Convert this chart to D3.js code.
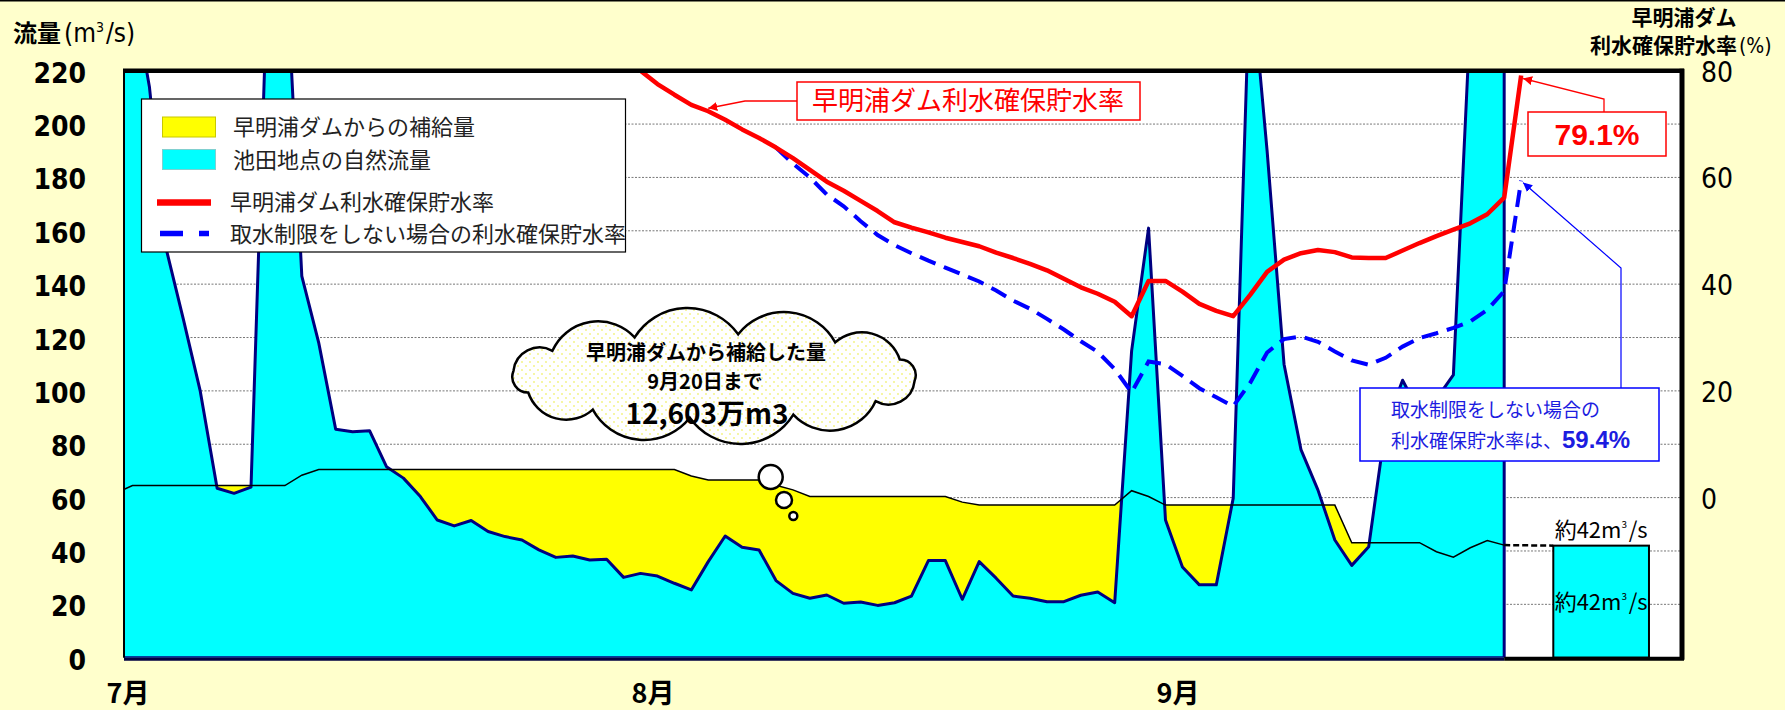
<!DOCTYPE html>
<html>
<head>
<meta charset="utf-8">
<script src="https://cdn.jsdelivr.net/npm/d3@7"></script>
<style>
  body { margin: 0; background: #ffffcc; }
  svg text { font-family: "Noto Sans CJK JP", sans-serif; }
</style>
</head>
<body>
<div id="chart"></div>
<script>
(() => {

  // day index 0 = 7/1, one value per day
  var natStart = -1;
  var natural = [260, 250, 214, 153, 127, 100, 63.5, 61.6, 63.9, 260, 270, 143, 118, 85.6, 84.7, 85.1, 71.6,
    67.3, 60.4, 51.6, 49.4, 51.4, 47.3, 45.4, 44.1, 40.4, 37.6, 38.1, 36.6, 36.9, 30.1, 31.6, 30.6, 27.9,
    25.4, 36.0, 45.6, 41.4, 40.4, 28.9, 24.1, 22.3, 23.5, 20.4, 20.9, 19.6, 20.6, 23.1, 36.4, 36.4, 21.9,
    36.0, 29.8, 23.1, 22.3, 21.0, 21.0, 23.4, 24.6, 20.6, 115, 161, 51.6, 34.0, 27.3, 27.3, 59.8, 260, 190,
    110, 78, 62.9, 44.1, 34.6, 41.6, 87, 104, 92, 97, 106, 240, 300, 300];

  var totStart = -1;
  var total = [61.7, 64.5, 64.5, 64.5, 64.5, 64.5, 64.5, 64.5, 64.5, 64.5, 64.5, 68.4,
    70.5, 70.5, 70.5, 70.5, 70.5, 70.5, 70.5, 70.5, 70.5, 70.5, 70.5, 70.5, 70.5, 70.5, 70.5, 70.5,
    70.5, 70.5, 70.5, 70.5, 70.5, 70.5, 68.1, 66.6, 66.6, 66.6, 66.6, 64.6, 62.9,
    60.4, 60.4, 60.4, 60.4, 60.4, 60.4, 60.4, 60.4, 60.4, 58.3,
    57.2, 57.2, 57.2, 57.2, 57.2, 57.2, 57.2, 57.2, 57.2, 62.6, 60.4,
    57.2, 57.2, 57.2, 57.2, 57.2, 57.2, 57.2, 57.2, 57.2, 57.2, 57.2,
    43.1, 43.1, 43.1, 43.1, 43.1, 39.7, 37.7, 41.2, 43.9, 42.2];

  // storage rate (%)
  var redStart = 29;
  var rate = [82, 80.0, 77.5, 75.5, 73.6, 72.4, 70.8, 69.0, 67.4, 65.6, 63.6, 61.4, 59.2, 57.5, 55.6,
    53.7, 51.6, 50.6, 49.7, 48.7, 47.9, 47.1, 45.9, 44.9, 43.8, 42.6, 41.0, 39.4, 38.2, 36.7, 34.0,
    40.6, 40.6, 38.6, 36.3, 35.0, 34.0, 38.0, 42.3, 44.6, 45.8, 46.4, 46.0, 45.0, 44.9, 44.9, 46.3,
    47.7, 49.0, 50.2, 51.4, 53.1, 56.2, 79.1];

  var blueStart = 38;
  var rateNoLimit = [65.6, 62.6, 60.0, 56.8, 54.6, 51.8, 49.2, 47.3, 45.8, 44.4, 43.1, 41.8, 40.5,
    38.8, 36.9, 35.4, 33.5, 31.5, 29.3, 27.3, 24.1, 19.7, 25.5, 25.0, 22.8, 20.5, 18.8, 17.1, 21.5,
    27.2, 29.7, 30.2, 29.2, 27.4, 25.7, 24.9, 26.2, 28.3, 29.9, 30.8, 31.8, 33.0, 35.2, 38.7, 59.4];

  var monthLabels = ['7月', '8月', '9月'];
  var monthDays = [0, 31, 62];
  var leftTicks = [0, 20, 40, 60, 80, 100, 120, 140, 160, 180, 200, 220];
  var rightTicks = [0, 20, 40, 60, 80];
  var gridTicks = [20, 40, 60, 80, 100, 120, 140, 160, 180, 200];
  var afterFlow = 42;
  var afterBarDays = [84.4, 90.05];

  var W = 1785, H = 710;
  var L = 124, R = 1682, T = 70.7, B = 657.7;
  var narrow = '"Liberation Sans Narrow", "DejaVu Sans Condensed", sans-serif';

  var svg = d3.select('#chart').append('svg')
    .attr('width', W).attr('height', H)
    .style('display', 'block');

  var defs = svg.append('defs');
  defs.append('clipPath').attr('id', 'plotclip')
    .append('rect').attr('x', L).attr('y', T).attr('width', R - L).attr('height', B - T);
  var pat = defs.append('pattern').attr('id', 'dots')
    .attr('width', 8).attr('height', 8).attr('patternUnits', 'userSpaceOnUse');
  pat.append('rect').attr('width', 8).attr('height', 8).attr('fill', '#fff');
  pat.append('circle').attr('cx', 2).attr('cy', 2).attr('r', 0.9).attr('fill', '#f2f27a');
  pat.append('circle').attr('cx', 6).attr('cy', 6).attr('r', 0.9).attr('fill', '#f2f27a');
  ['red', 'blue'].forEach(c => {
    defs.append('marker').attr('id', 'arr-' + c)
      .attr('viewBox', '0 0 10 10').attr('refX', 10).attr('refY', 5)
      .attr('markerWidth', 9).attr('markerHeight', 9).attr('orient', 'auto-start-reverse')
      .attr('markerUnits', 'userSpaceOnUse')
      .append('path').attr('d', 'M0,0 L10,5 L0,10 z').attr('fill', c === 'red' ? '#ff0000' : '#0000ff');
  });

  // page frame
  svg.append('rect').attr('x', 0).attr('y', 0).attr('width', W).attr('height', H).attr('fill', '#ffffcc');
  svg.append('line').attr('x1', 0).attr('x2', W).attr('y1', 0.75).attr('y2', 0.75)
    .attr('stroke', '#000').attr('stroke-width', 1.5);

  var x = d3.scaleLinear().domain([0, 92]).range([L, R]);
  var y = d3.scaleLinear().domain([0, 220]).range([B, T]);
  var yR = d3.scaleLinear().domain([-30, 80]).range([B, T]);
  var px = i => x(i + 0.5);

  svg.append('rect').attr('x', L).attr('y', T).attr('width', R - L).attr('height', B - T).attr('fill', '#fff');

  svg.append('g').selectAll('line').data(gridTicks).enter().append('line')
    .attr('x1', L).attr('x2', R).attr('y1', d => y(d)).attr('y2', d => y(d))
    .attr('stroke', '#777').attr('stroke-width', 1).attr('stroke-dasharray', '2,1.5');

  var plot = svg.append('g').attr('clip-path', 'url(#plotclip)');

  var totPts = total.map((v, k) => [k + totStart, v]);
  var natPts = natural.map((v, k) => [k + natStart, v]);
  var flowArea = d3.area().x(d => px(d[0])).y0(y(0)).y1(d => y(d[1]));

  plot.append('path').datum(totPts)
    .attr('fill', '#ffff00')
    .attr('d', flowArea);

  plot.append('path')
    .attr('fill', '#00ffff').attr('stroke', '#000080').attr('stroke-width', 3)
    .attr('stroke-linejoin', 'round')
    .attr('d', flowArea(natPts) + 'Z');

  plot.append('path').datum(totPts)
    .attr('fill', 'none').attr('stroke', '#000').attr('stroke-width', 1.5)
    .attr('d', d3.line().x(d => px(d[0])).y(d => y(d[1])));

  // after-release flow
  var lastDay = totStart + total.length - 1;
  svg.append('line')
    .attr('x1', px(lastDay)).attr('x2', x(afterBarDays[0]))
    .attr('y1', y(total[total.length - 1])).attr('y2', y(afterFlow))
    .attr('stroke', '#000').attr('stroke-width', 2.5).attr('stroke-dasharray', '6,3');
  svg.append('rect')
    .attr('x', x(afterBarDays[0])).attr('y', y(afterFlow))
    .attr('width', x(afterBarDays[1]) - x(afterBarDays[0])).attr('height', y(0) - y(afterFlow))
    .attr('fill', '#00ffff').attr('stroke', '#000').attr('stroke-width', 2);

  var m3 = (sel, txt, size) => {
    sel.append('tspan').text(txt + 'm');
    sel.append('tspan').text('3').attr('font-size', size * 0.45).attr('dy', -size * 0.45);
    sel.append('tspan').text('/s').attr('dy', size * 0.45).attr('dx', size * 0.08);
  };
  var barMid = (x(afterBarDays[0]) + x(afterBarDays[1])) / 2;
  [y(afterFlow) - 8, y(afterFlow / 2) + 8].forEach(ty => {
    var t = svg.append('text').attr('x', barMid).attr('y', ty)
      .attr('text-anchor', 'middle').attr('font-size', 22)
      .style('font-family', '"Liberation Sans Narrow", "Noto Sans CJK JP"').attr('fill', '#000');
    m3(t, '約42', 22);
  });

  var rline = d3.line().x(d => px(d[0])).y(d => yR(d[1]));
  plot.append('path').datum(rateNoLimit.map((v, k) => [k + blueStart, v]))
    .attr('fill', 'none').attr('stroke', '#0000ff').attr('stroke-width', 4)
    .attr('stroke-dasharray', '17,9').attr('d', rline);
  plot.append('path').datum(rate.map((v, k) => [k + redStart, v]))
    .attr('fill', 'none').attr('stroke', '#ff0000').attr('stroke-width', 4.5)
    .attr('stroke-linejoin', 'round').attr('d', rline);

  // frame
  svg.append('line').attr('x1', L).attr('x2', L).attr('y1', T).attr('y2', B).attr('stroke', '#000').attr('stroke-width', 2);
  svg.append('line').attr('x1', L - 1).attr('x2', R + 2).attr('y1', T).attr('y2', T).attr('stroke', '#000').attr('stroke-width', 4.5);
  svg.append('line').attr('x1', R).attr('x2', R).attr('y1', T - 2).attr('y2', B + 2).attr('stroke', '#000').attr('stroke-width', 5);
  svg.append('line').attr('x1', px(lastDay)).attr('x2', R + 2).attr('y1', B + 1).attr('y2', B + 1).attr('stroke', '#000').attr('stroke-width', 4);
  svg.append('line').attr('x1', L).attr('x2', px(lastDay)).attr('y1', B + 1.5).attr('y2', B + 1.5).attr('stroke', '#000040').attr('stroke-width', 3);

  // legend
  var lg = svg.append('g');
  lg.append('rect').attr('x', 141.5).attr('y', 99).attr('width', 484).attr('height', 153)
    .attr('fill', '#fff').attr('stroke', '#000').attr('stroke-width', 1.2);
  var legItems = ['早明浦ダムからの補給量', '池田地点の自然流量', '早明浦ダム利水確保貯水率', '取水制限をしない場合の利水確保貯水率'];
  var legY = [127, 160, 202, 234];
  lg.append('rect').attr('x', 162.5).attr('y', 117).attr('width', 53).attr('height', 20).attr('fill', '#ffff00').attr('stroke', '#c8c800');
  lg.append('rect').attr('x', 162.5).attr('y', 149.5).attr('width', 53).attr('height', 20).attr('fill', '#00ffff').attr('stroke', '#80d0d0');
  lg.append('line').attr('x1', 157).attr('x2', 211).attr('y1', 202.5).attr('y2', 202.5).attr('stroke', '#ff0000').attr('stroke-width', 6.5);
  lg.append('line').attr('x1', 160).attr('x2', 209).attr('y1', 233.5).attr('y2', 233.5).attr('stroke', '#0000ff').attr('stroke-width', 5.5).attr('stroke-dasharray', '23,16');
  lg.selectAll('text.leg').data(legItems).enter().append('text')
    .attr('x', (d, k) => k < 2 ? 233 : 230).attr('y', (d, k) => legY[k] + 8)
    .attr('font-size', 22).attr('fill', '#222').text(d => d);

  // left axis
  svg.append('g').selectAll('text').data(leftTicks).enter().append('text')
    .attr('x', 86).attr('y', d => y(d) + 12).attr('text-anchor', 'end')
    .attr('font-size', 28).attr('font-weight', 'bold')
    .style('font-family', narrow)
    .text(d => d);
  var yt = svg.append('text').attr('x', 13).attr('y', 42).attr('font-size', 24).attr('font-weight', 'bold');
  yt.append('tspan').text('流量');
  yt.append('tspan').attr('font-weight', 'normal').attr('font-size', 26)
    .style('font-family', narrow).attr('dx', 3).text('(m');
  yt.append('tspan').text('3').attr('font-size', 14).attr('font-weight', 'normal').attr('dy', -10)
    .style('font-family', narrow);
  yt.append('tspan').text('/s)').attr('font-size', 26).attr('font-weight', 'normal').attr('dy', 10).attr('dx', 2)
    .style('font-family', narrow);

  // right axis
  svg.append('g').selectAll('text').data(rightTicks).enter().append('text')
    .attr('x', 1701).attr('y', d => yR(d) + 11)
    .attr('font-size', 28)
    .style('font-family', narrow)
    .text(d => d);
  svg.append('text').attr('x', 1684).attr('y', 25).attr('text-anchor', 'middle')
    .attr('font-size', 21).attr('font-weight', 'bold').text('早明浦ダム');
  var rt = svg.append('text').attr('x', 1590).attr('y', 53).attr('font-size', 21).attr('font-weight', 'bold');
  rt.append('tspan').text('利水確保貯水率');
  rt.append('tspan').text('(%)').attr('font-weight', 'normal').attr('font-size', 21).attr('dx', 2)
    .style('font-family', narrow);

  // months
  svg.append('g').selectAll('text').data(monthLabels).enter().append('text')
    .attr('x', (d, k) => x(monthDays[k]) + 4).attr('y', 703).attr('text-anchor', 'middle')
    .attr('font-size', 27).attr('font-weight', 'bold')
    .style('font-family', '"Liberation Sans Narrow", "Noto Sans CJK JP"')
    .text(d => d);

  // annotation: storage rate
  svg.append('rect').attr('x', 797).attr('y', 82).attr('width', 343).attr('height', 38)
    .attr('fill', '#fff').attr('stroke', '#ff0000').attr('stroke-width', 1.5);
  svg.append('text').attr('x', 968).attr('y', 110).attr('text-anchor', 'middle')
    .attr('font-size', 26).attr('fill', '#ff0000').text('早明浦ダム利水確保貯水率');
  svg.append('polyline').attr('points', '797,101 745,101 ' + px(34) + ',' + (yR(rate[34 - redStart]) - 3))
    .attr('fill', 'none').attr('stroke', '#ff0000').attr('stroke-width', 1.3).attr('marker-end', 'url(#arr-red)');

  // annotation: 79.1%
  svg.append('rect').attr('x', 1528).attr('y', 112).attr('width', 138).attr('height', 44)
    .attr('fill', '#fff').attr('stroke', '#ff0000').attr('stroke-width', 1.5);
  svg.append('text').attr('x', 1597).attr('y', 145).attr('text-anchor', 'middle')
    .attr('font-size', 30).attr('font-weight', 'bold').attr('fill', '#ff0000')
    .style('font-family', '"Liberation Sans", Arial, sans-serif').text(rate[rate.length - 1] + '%');
  svg.append('polyline').attr('points', '1604,112 1604,99 ' + (px(82) + 2) + ',' + (yR(rate[rate.length - 1]) + 3))
    .attr('fill', 'none').attr('stroke', '#ff0000').attr('stroke-width', 1.3).attr('marker-end', 'url(#arr-red)');

  // annotation: no limit
  svg.append('rect').attr('x', 1360).attr('y', 388).attr('width', 299).attr('height', 73)
    .attr('fill', '#fff').attr('stroke', '#0000ff').attr('stroke-width', 1.5);
  svg.append('text').attr('x', 1391).attr('y', 417).attr('font-size', 19).attr('fill', '#1c1ce0').text('取水制限をしない場合の');
  var bt = svg.append('text').attr('x', 1391).attr('y', 448).attr('font-size', 19).attr('fill', '#1c1ce0');
  bt.append('tspan').text('利水確保貯水率は、');
  bt.append('tspan').text(rateNoLimit[rateNoLimit.length - 1] + '%').attr('font-size', 24).attr('font-weight', 'bold')
    .style('font-family', '"Liberation Sans", Arial, sans-serif');
  svg.append('polyline').attr('points', '1621,388 1621,268 ' + (px(82) + 2) + ',' + (yR(rateNoLimit[rateNoLimit.length - 1]) + 2))
    .attr('fill', 'none').attr('stroke', '#0000ff').attr('stroke-width', 1.2).attr('marker-end', 'url(#arr-blue)');

  // cloud
  var cx = 714, cy = 376, rx = 202, ry = 42, n = 12;
  var cp = d3.range(n).map(k => {
    var a = Math.PI * 2 * k / n - Math.PI / 2 + 0.12;
    return [cx + rx * Math.cos(a), cy + ry * Math.sin(a)];
  });
  var cd = 'M' + cp[0][0] + ',' + cp[0][1];
  cp.forEach((p, k) => {
    var q = cp[(k + 1) % n];
    var ch = Math.hypot(q[0] - p[0], q[1] - p[1]);
    cd += ' A' + ch * 0.6 + ',' + ch * 0.6 + ' 0 0 1 ' + q[0] + ',' + q[1];
  });
  svg.append('path').attr('d', cd + 'Z').attr('fill', 'url(#dots)').attr('stroke', '#000').attr('stroke-width', 2.5);
  [[770.7, 477, 12], [784, 500, 8], [793.3, 516, 4]].forEach(c => {
    svg.append('circle').attr('cx', c[0]).attr('cy', c[1]).attr('r', c[2])
      .attr('fill', '#fff').attr('stroke', '#000').attr('stroke-width', 2.5);
  });
  svg.append('text').attr('x', 706).attr('y', 360).attr('text-anchor', 'middle')
    .attr('font-size', 20).attr('font-weight', 'bold').text('早明浦ダムから補給した量');
  svg.append('text').attr('x', 705).attr('y', 389).attr('text-anchor', 'middle')
    .attr('font-size', 20).attr('font-weight', 'bold').text('9月20日まで');
  svg.append('text').attr('x', 707).attr('y', 424).attr('text-anchor', 'middle')
    .attr('font-size', 28).attr('font-weight', 'bold').text('12,603万m3');

})();
</script>
</body>
</html>
